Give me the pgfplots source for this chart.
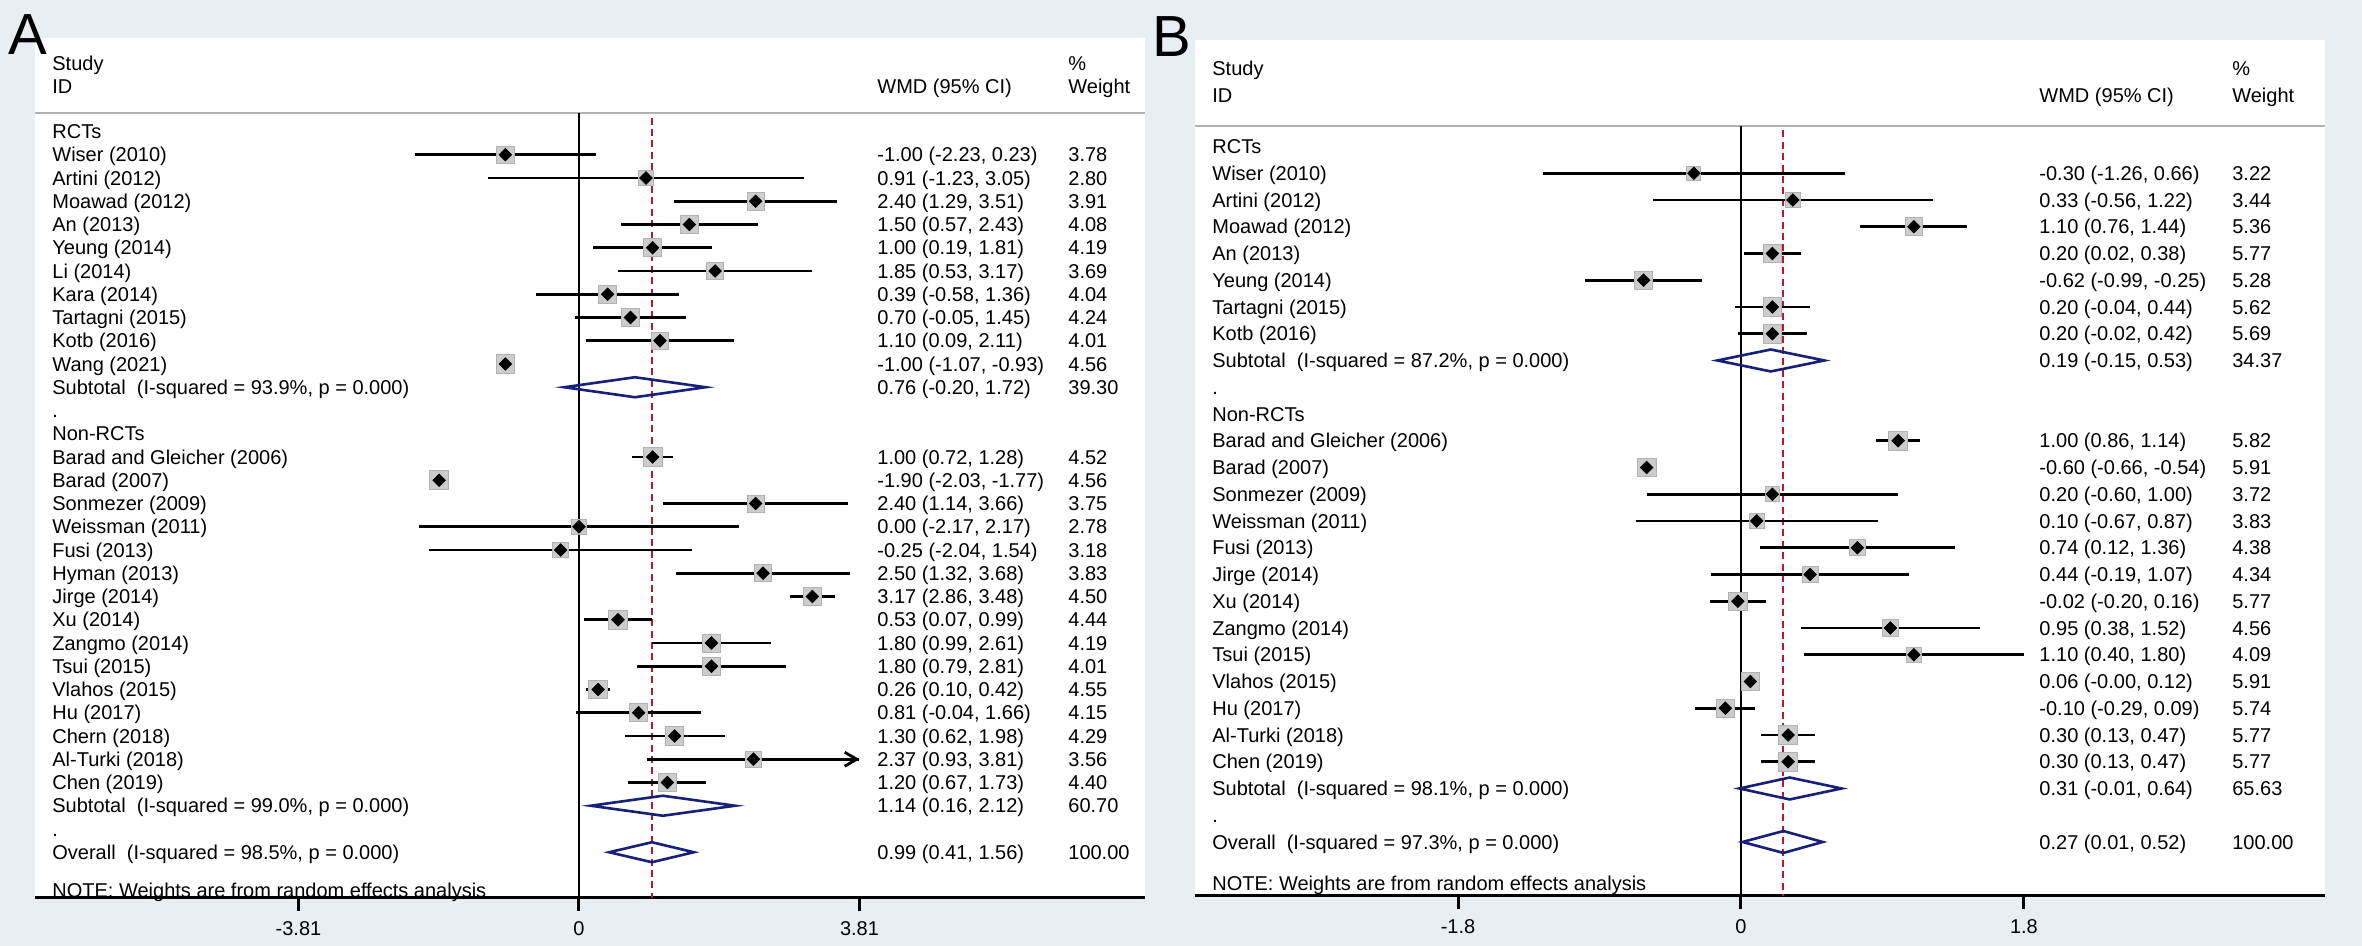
\documentclass[border=0pt]{standalone}
\usepackage{pgfplots}
\pgfplotsset{compat=1.18}
\usepackage{pgfplotstable}
\usepackage{fontspec}
\setmainfont{Liberation Sans}
\usetikzlibrary{arrows.meta}
\definecolor{bgc}{RGB}{232,239,242}
\definecolor{navy}{RGB}{22,32,120}
\definecolor{redd}{RGB}{175,30,40}

% panel A studies: y = -row
\pgfplotstableread{
y est lo hi w
-1 -1.00 -2.23 0.23 3.78
-2 0.91 -1.23 3.05 2.80
-3 2.40 1.29 3.51 3.91
-4 1.50 0.57 2.43 4.08
-5 1.00 0.19 1.81 4.19
-6 1.85 0.53 3.17 3.69
-7 0.39 -0.58 1.36 4.04
-8 0.70 -0.05 1.45 4.24
-9 1.10 0.09 2.11 4.01
-10 -1.00 -1.07 -0.93 4.56
-14 1.00 0.72 1.28 4.52
-15 -1.90 -2.03 -1.77 4.56
-16 2.40 1.14 3.66 3.75
-17 0.00 -2.17 2.17 2.78
-18 -0.25 -2.04 1.54 3.18
-19 2.50 1.32 3.68 3.83
-20 3.17 2.86 3.48 4.50
-21 0.53 0.07 0.99 4.44
-22 1.80 0.99 2.61 4.19
-23 1.80 0.79 2.81 4.01
-24 0.26 0.10 0.42 4.55
-25 0.81 -0.04 1.66 4.15
-26 1.30 0.62 1.98 4.29
-27 2.37 0.93 3.81 3.56
-28 1.20 0.67 1.73 4.40
}\tabA

% panel B studies
\pgfplotstableread{
y est lo hi w
-1 -0.30 -1.26 0.66 3.22
-2 0.33 -0.56 1.22 3.44
-3 1.10 0.76 1.44 5.36
-4 0.20 0.02 0.38 5.77
-5 -0.62 -0.99 -0.25 5.28
-6 0.20 -0.04 0.44 5.62
-7 0.20 -0.02 0.42 5.69
-11 1.00 0.86 1.14 5.82
-12 -0.60 -0.66 -0.54 5.91
-13 0.20 -0.60 1.00 3.72
-14 0.10 -0.67 0.87 3.83
-15 0.74 0.12 1.36 4.38
-16 0.44 -0.19 1.07 4.34
-17 -0.02 -0.20 0.16 5.77
-18 0.95 0.38 1.52 4.56
-19 1.10 0.40 1.80 4.09
-20 0.06 -0.00 0.12 5.91
-21 -0.10 -0.29 0.09 5.74
-22 0.30 0.13 0.47 5.77
-23 0.30 0.13 0.47 5.77
}\tabB

\newcommand\TA[2]{\node[lbl] at (axis cs:-7.158,#1) {#2};}
\newcommand\RA[4]{\node[lbl] at (axis cs:-7.158,#1) {#2};\node[lbl] at (axis cs:4.048,#1) {#3};\node[lbl] at (axis cs:6.642,#1) {#4};}
\newcommand\TB[2]{\node[lbl] at (axis cs:-3.365,#1) {#2};}
\newcommand\RB[4]{\node[lbl] at (axis cs:-3.365,#1) {#2};\node[lbl] at (axis cs:1.896,#1) {#3};\node[lbl] at (axis cs:3.123,#1) {#4};}

\pgfplotsset{
  fp/.style={
    scale only axis, anchor=south west, clip=false,
    axis x line*=bottom, axis y line=none,
    axis background/.style={fill=white},
    ytick=\empty, tick align=outside, major tick length=6.5pt,
    x axis line style={line width=1.5pt, black},
    tick style={line width=1.5pt, black},
    ticklabel style={font=\fontsize{10}{12}\selectfont, yshift=-1.8pt},
  },
  boxes/.style={scatter, only marks, mark=square*,
    scatter/use mapped color={draw=gray!60, fill=gray!40},
    scatter/@pre marker code/.append style={/tikz/mark size=\ms pt}},
  cis/.style={only marks, mark=none,
    error bars/.cd, x dir=both, x explicit, error mark=none,
    error bar style={line width=1.4pt, black, solid}},
  pts/.style={only marks, mark=square*, mark size=2.2pt,
    mark options={rotate=45, fill=black, draw=black}},
  dmd/.style={navy, line width=1.3pt, mark=none, line join=miter},
}

\begin{document}
\fontsize{10}{12}\selectfont
\begin{tikzpicture}[lbl/.style={anchor=base west, inner sep=0pt, yshift=-3.6pt, font=\fontsize{10}{12}\selectfont}]
\fill[bgc] (0,0) rectangle (1181pt,473pt);

% ---------------- Panel A ----------------
\begin{axis}[fp, at={(17.5pt,24pt)}, width=555pt, height=430pt,
  xmin=-7.389, xmax=7.688, ymin=-32.968, ymax=4.022,
  xtick={-3.81,0,3.81}, xticklabels={{-3.81},{0},{3.81}}]
\draw[gray!60, line width=1pt] (axis cs:-7.389,0.796) -- (axis cs:7.688,0.796);
\addplot[boxes, visualization depends on={4.7*sqrt(\thisrow{w}/4.56) \as \ms}] table[x=est,y=y] {\tabA};
\addplot[black, line width=1.2pt] coordinates {(0,0.796) (0,-32.968)};
\addplot[redd, line width=1pt, dash pattern=on 3.5pt off 2.2pt] coordinates {(0.99,0.6) (0.99,-32.968)};
\addplot[cis] table[x=est, y=y, x error plus expr=\thisrow{hi}-\thisrow{est}, x error minus expr=\thisrow{est}-\thisrow{lo}] {\tabA};
\addplot[black, line width=1.4pt, -{Straight Barb[length=6pt,width=7pt]}] coordinates {(2.37,-27) (3.81,-27)};
\addplot[pts] table[x=est,y=y] {\tabA};
\addplot[dmd] coordinates {(-0.20,-11) (0.76,-10.57) (1.72,-11) (0.76,-11.43)} -- cycle;
\addplot[dmd] coordinates {(0.16,-29) (1.14,-28.57) (2.12,-29) (1.14,-29.43)} -- cycle;
\addplot[dmd] coordinates {(0.41,-31) (0.99,-30.57) (1.56,-31) (0.99,-31.43)} -- cycle;
\node[lbl] at (axis cs:-7.158,2.946) {Study};
\node[lbl] at (axis cs:-7.158,1.957) {ID};
\node[lbl] at (axis cs:4.048,1.957) {WMD (95\% CI)};
\node[lbl] at (axis cs:6.642,2.946) {\%};
\node[lbl] at (axis cs:6.642,1.957) {Weight};
\TA{0}{RCTs}
\RA{-1}{Wiser (2010)}{-1.00 (-2.23, 0.23)}{3.78}
\RA{-2}{Artini (2012)}{0.91 (-1.23, 3.05)}{2.80}
\RA{-3}{Moawad (2012)}{2.40 (1.29, 3.51)}{3.91}
\RA{-4}{An (2013)}{1.50 (0.57, 2.43)}{4.08}
\RA{-5}{Yeung (2014)}{1.00 (0.19, 1.81)}{4.19}
\RA{-6}{Li (2014)}{1.85 (0.53, 3.17)}{3.69}
\RA{-7}{Kara (2014)}{0.39 (-0.58, 1.36)}{4.04}
\RA{-8}{Tartagni (2015)}{0.70 (-0.05, 1.45)}{4.24}
\RA{-9}{Kotb (2016)}{1.10 (0.09, 2.11)}{4.01}
\RA{-10}{Wang (2021)}{-1.00 (-1.07, -0.93)}{4.56}
\RA{-11}{Subtotal\ \ (I-squared = 93.9\%, p = 0.000)}{0.76 (-0.20, 1.72)}{39.30}
\TA{-12}{.}
\TA{-13}{Non-RCTs}
\RA{-14}{Barad and Gleicher (2006)}{1.00 (0.72, 1.28)}{4.52}
\RA{-15}{Barad (2007)}{-1.90 (-2.03, -1.77)}{4.56}
\RA{-16}{Sonmezer (2009)}{2.40 (1.14, 3.66)}{3.75}
\RA{-17}{Weissman (2011)}{0.00 (-2.17, 2.17)}{2.78}
\RA{-18}{Fusi (2013)}{-0.25 (-2.04, 1.54)}{3.18}
\RA{-19}{Hyman (2013)}{2.50 (1.32, 3.68)}{3.83}
\RA{-20}{Jirge (2014)}{3.17 (2.86, 3.48)}{4.50}
\RA{-21}{Xu (2014)}{0.53 (0.07, 0.99)}{4.44}
\RA{-22}{Zangmo (2014)}{1.80 (0.99, 2.61)}{4.19}
\RA{-23}{Tsui (2015)}{1.80 (0.79, 2.81)}{4.01}
\RA{-24}{Vlahos (2015)}{0.26 (0.10, 0.42)}{4.55}
\RA{-25}{Hu (2017)}{0.81 (-0.04, 1.66)}{4.15}
\RA{-26}{Chern (2018)}{1.30 (0.62, 1.98)}{4.29}
\RA{-27}{Al-Turki (2018)}{2.37 (0.93, 3.81)}{3.56}
\RA{-28}{Chen (2019)}{1.20 (0.67, 1.73)}{4.40}
\RA{-29}{Subtotal\ \ (I-squared = 99.0\%, p = 0.000)}{1.14 (0.16, 2.12)}{60.70}
\TA{-30}{.}
\RA{-31}{Overall\ \ (I-squared = 98.5\%, p = 0.000)}{0.99 (0.41, 1.56)}{100.00}
\TA{-32.62}{NOTE: Weights are from random effects analysis}
\end{axis}

% ---------------- Panel B ----------------
\begin{axis}[fp, at={(597.5pt,25pt)}, width=565pt, height=428pt,
  xmin=-3.473, xmax=3.715, ymin=-28.019, ymax=3.981,
  xtick={-1.8,0,1.8}, xticklabels={{-1.8},{0},{1.8}}]
\draw[gray!60, line width=1pt] (axis cs:-3.473,0.766) -- (axis cs:3.715,0.766);
\addplot[boxes, visualization depends on={4.7*sqrt(\thisrow{w}/5.91) \as \ms}] table[x=est,y=y] {\tabB};
\addplot[black, line width=1.2pt] coordinates {(0,0.766) (0,-28.019)};
\addplot[redd, line width=1pt, dash pattern=on 3.5pt off 2.2pt] coordinates {(0.27,0.6) (0.27,-28.019)};
\addplot[cis] table[x=est, y=y, x error plus expr=\thisrow{hi}-\thisrow{est}, x error minus expr=\thisrow{est}-\thisrow{lo}] {\tabB};
\addplot[pts] table[x=est,y=y] {\tabB};
\addplot[dmd] coordinates {(-0.15,-8) (0.19,-7.59) (0.53,-8) (0.19,-8.41)} -- cycle;
\addplot[dmd] coordinates {(-0.01,-24) (0.31,-23.59) (0.64,-24) (0.31,-24.41)} -- cycle;
\addplot[dmd] coordinates {(0.01,-26) (0.27,-25.59) (0.52,-26) (0.27,-26.41)} -- cycle;
\node[lbl] at (axis cs:-3.365,2.934) {Study};
\node[lbl] at (axis cs:-3.365,1.925) {ID};
\node[lbl] at (axis cs:1.896,1.925) {WMD (95\% CI)};
\node[lbl] at (axis cs:3.123,2.934) {\%};
\node[lbl] at (axis cs:3.123,1.925) {Weight};
\TB{0}{RCTs}
\RB{-1}{Wiser (2010)}{-0.30 (-1.26, 0.66)}{3.22}
\RB{-2}{Artini (2012)}{0.33 (-0.56, 1.22)}{3.44}
\RB{-3}{Moawad (2012)}{1.10 (0.76, 1.44)}{5.36}
\RB{-4}{An (2013)}{0.20 (0.02, 0.38)}{5.77}
\RB{-5}{Yeung (2014)}{-0.62 (-0.99, -0.25)}{5.28}
\RB{-6}{Tartagni (2015)}{0.20 (-0.04, 0.44)}{5.62}
\RB{-7}{Kotb (2016)}{0.20 (-0.02, 0.42)}{5.69}
\RB{-8}{Subtotal\ \ (I-squared = 87.2\%, p = 0.000)}{0.19 (-0.15, 0.53)}{34.37}
\TB{-9}{.}
\TB{-10}{Non-RCTs}
\RB{-11}{Barad and Gleicher (2006)}{1.00 (0.86, 1.14)}{5.82}
\RB{-12}{Barad (2007)}{-0.60 (-0.66, -0.54)}{5.91}
\RB{-13}{Sonmezer (2009)}{0.20 (-0.60, 1.00)}{3.72}
\RB{-14}{Weissman (2011)}{0.10 (-0.67, 0.87)}{3.83}
\RB{-15}{Fusi (2013)}{0.74 (0.12, 1.36)}{4.38}
\RB{-16}{Jirge (2014)}{0.44 (-0.19, 1.07)}{4.34}
\RB{-17}{Xu (2014)}{-0.02 (-0.20, 0.16)}{5.77}
\RB{-18}{Zangmo (2014)}{0.95 (0.38, 1.52)}{4.56}
\RB{-19}{Tsui (2015)}{1.10 (0.40, 1.80)}{4.09}
\RB{-20}{Vlahos (2015)}{0.06 (-0.00, 0.12)}{5.91}
\RB{-21}{Hu (2017)}{-0.10 (-0.29, 0.09)}{5.74}
\RB{-22}{Al-Turki (2018)}{0.30 (0.13, 0.47)}{5.77}
\RB{-23}{Chen (2019)}{0.30 (0.13, 0.47)}{5.77}
\RB{-24}{Subtotal\ \ (I-squared = 98.1\%, p = 0.000)}{0.31 (-0.01, 0.64)}{65.63}
\TB{-25}{.}
\RB{-26}{Overall\ \ (I-squared = 97.3\%, p = 0.000)}{0.27 (0.01, 0.52)}{100.00}
\TB{-27.53}{NOTE: Weights are from random effects analysis}
\end{axis}

\node[anchor=base west, inner sep=0pt, font=\fontsize{29}{32}\selectfont] at (4pt,445.5pt) {A};
\node[anchor=base west, inner sep=0pt, font=\fontsize{29}{32}\selectfont] at (576pt,444.5pt) {B};
\end{tikzpicture}
\end{document}
